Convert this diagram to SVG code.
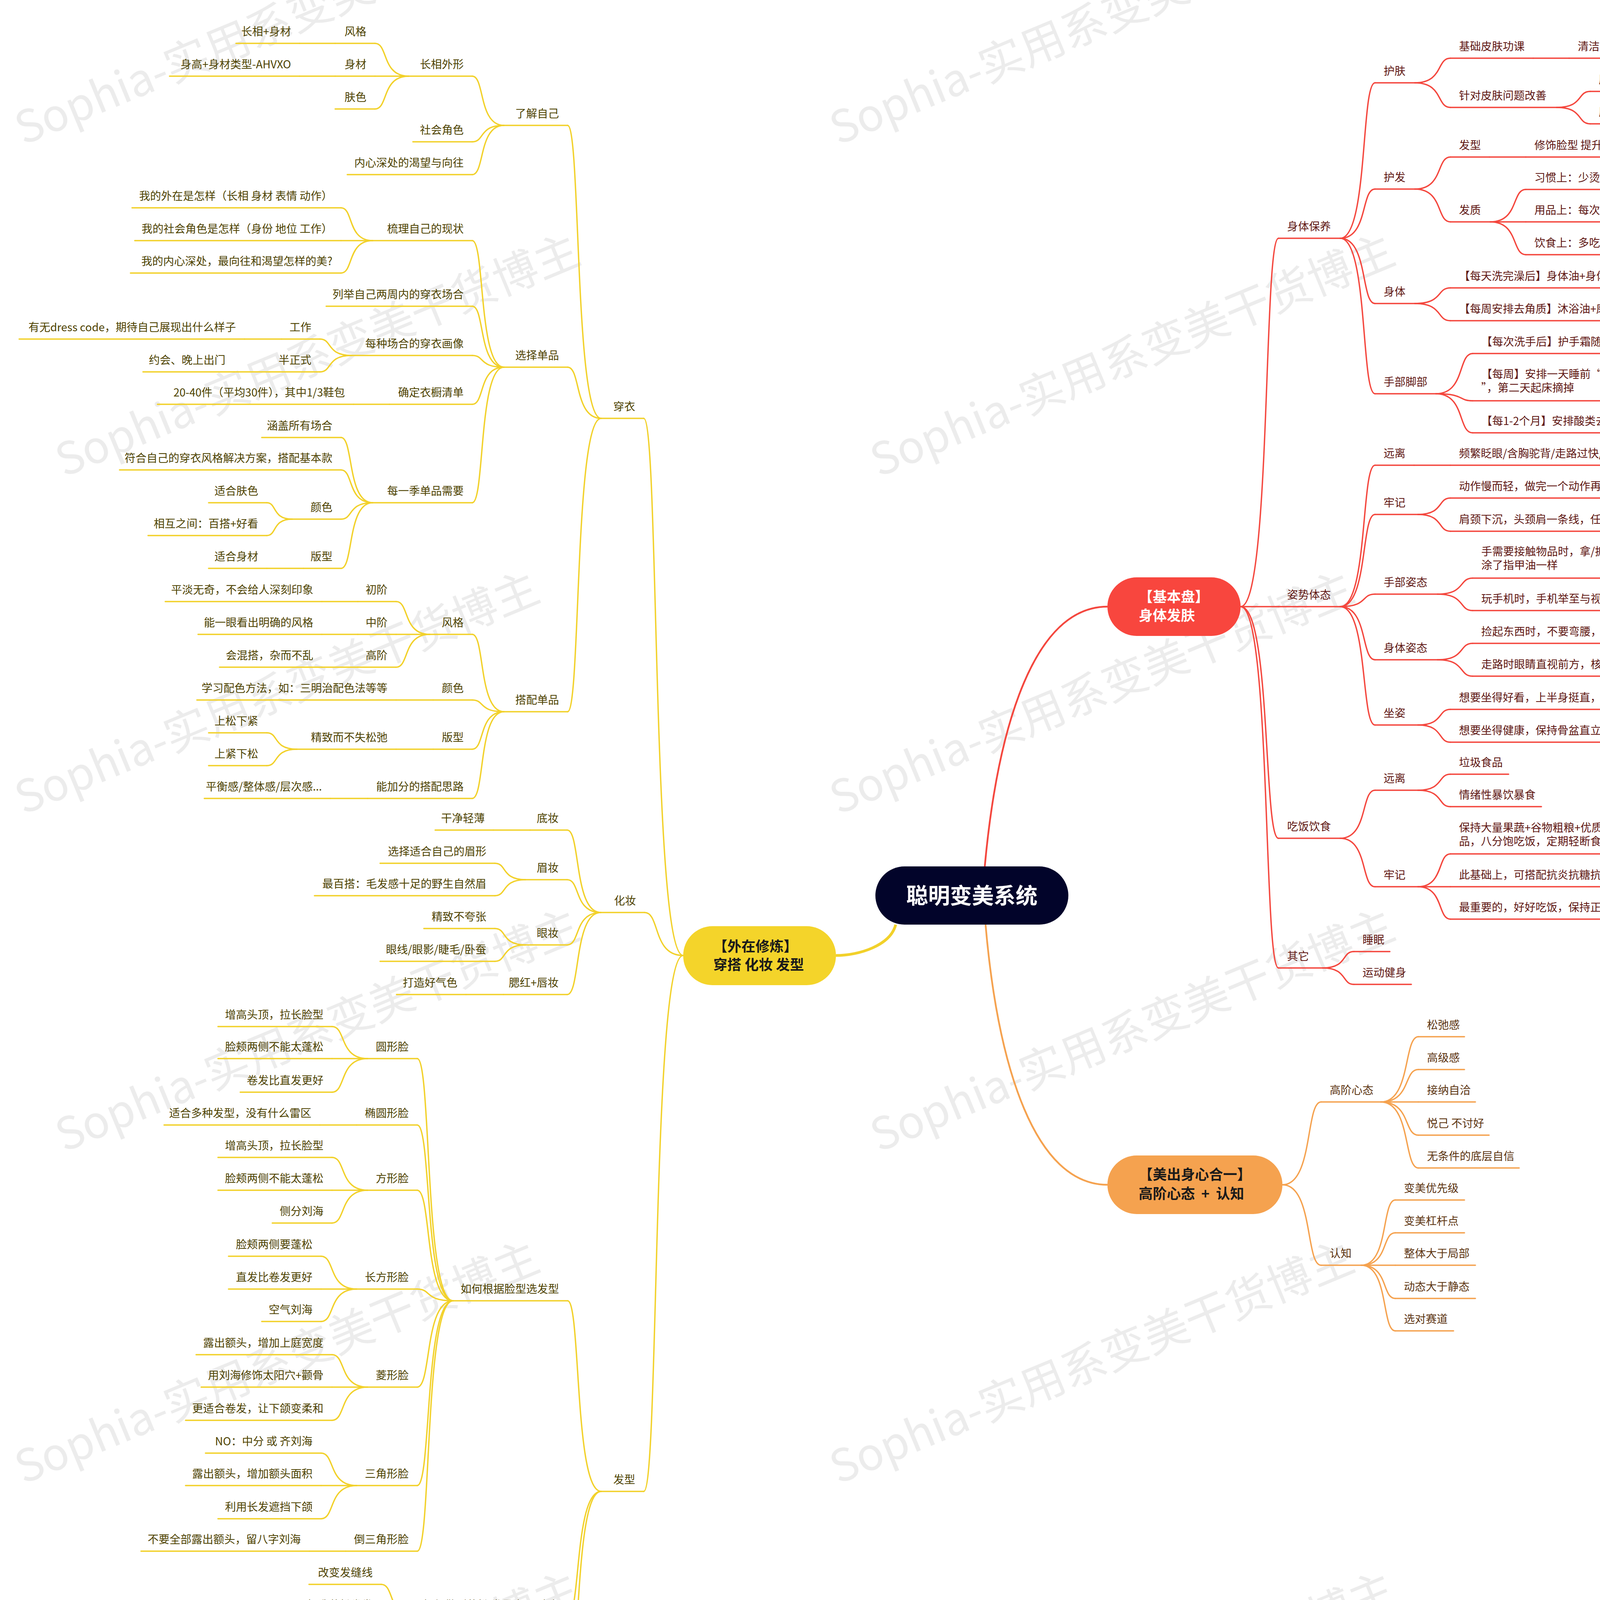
<svg xmlns="http://www.w3.org/2000/svg" width="4672" height="4358" viewBox="0 0 4672 4358">
<style>
text{font-family:"Noto Sans CJK SC","Noto Sans",sans-serif}
.t{font-size:28px}
.ty{fill:#4d4200}
.tr{fill:#5e1612}
.to{fill:#5b3310}
.e{text-anchor:end}
.uy,.uy path{stroke:#F2D12A;stroke-width:3.5;fill:none;stroke-linecap:round}
.ur,.ur path{stroke:#F4473E;stroke-width:3.5;fill:none;stroke-linecap:round}
.uo,.uo path{stroke:#F5A24F;stroke-width:3.5;fill:none;stroke-linecap:round}
.wm{font-size:114px;fill:#ececec}
.nt{font-size:36px;font-weight:bold}
</style>
<rect x="0" y="0" width="4672" height="4358" fill="#ffffff"/>
<g id="watermark">
<text class="wm" x="60" y="372" transform="rotate(-22.5 60 372)">Sophia-实用系变美干货博主</text>
<text class="wm" x="2146" y="372" transform="rotate(-22.5 2146 372)">Sophia-实用系变美干货博主</text>
<text class="wm" x="4232" y="372" transform="rotate(-22.5 4232 372)">Sophia-实用系变美干货博主</text>
<text class="wm" x="164" y="1222" transform="rotate(-22.5 164 1222)">Sophia-实用系变美干货博主</text>
<text class="wm" x="2250" y="1222" transform="rotate(-22.5 2250 1222)">Sophia-实用系变美干货博主</text>
<text class="wm" x="4336" y="1222" transform="rotate(-22.5 4336 1222)">Sophia-实用系变美干货博主</text>
<text class="wm" x="60" y="2086" transform="rotate(-22.5 60 2086)">Sophia-实用系变美干货博主</text>
<text class="wm" x="2146" y="2086" transform="rotate(-22.5 2146 2086)">Sophia-实用系变美干货博主</text>
<text class="wm" x="4232" y="2086" transform="rotate(-22.5 4232 2086)">Sophia-实用系变美干货博主</text>
<text class="wm" x="164" y="2950" transform="rotate(-22.5 164 2950)">Sophia-实用系变美干货博主</text>
<text class="wm" x="2250" y="2950" transform="rotate(-22.5 2250 2950)">Sophia-实用系变美干货博主</text>
<text class="wm" x="4336" y="2950" transform="rotate(-22.5 4336 2950)">Sophia-实用系变美干货博主</text>
<text class="wm" x="60" y="3800" transform="rotate(-22.5 60 3800)">Sophia-实用系变美干货博主</text>
<text class="wm" x="2146" y="3800" transform="rotate(-22.5 2146 3800)">Sophia-实用系变美干货博主</text>
<text class="wm" x="4232" y="3800" transform="rotate(-22.5 4232 3800)">Sophia-实用系变美干货博主</text>
<text class="wm" x="164" y="4648" transform="rotate(-22.5 164 4648)">Sophia-实用系变美干货博主</text>
<text class="wm" x="2250" y="4648" transform="rotate(-22.5 2250 4648)">Sophia-实用系变美干货博主</text>
</g>
<g id="connectors">
<path d="M2521 2218C2555 1850 2650 1553 2835 1553" stroke="#F4473E" stroke-width="4.5" fill="none"/>
<path d="M2523 2367C2555 2735 2650 3033 2835 3033" stroke="#F5A24F" stroke-width="4.5" fill="none"/>
<path d="M2293 2367C2280 2420 2200 2446 2140 2446" stroke="#F2D12A" stroke-width="7" fill="none"/>
<g class="uy">
<path d="M1749 2446C1668 2446 1688 1071 1648 1071"/>
<path d="M1749 2446C1670 2446 1690 2336 1650 2336"/>
<path d="M1749 2446C1668 2446 1688 3818 1648 3818"/>
<path d="M1539 1071C1470 1071 1487 321 1453 321"/>
<path d="M1539 1071C1470 1071 1487 940 1453 940"/>
<path d="M1539 1071C1470 1071 1487 1822 1453 1822"/>
<path d="M1290 321C1225 321 1241 195 1209 195"/>
<path d="M1290 321C1225 321 1241 363 1209 363"/>
<path d="M1290 321C1225 321 1241 447 1209 447"/>
<path d="M1046 195C977 195 994 111 960 111"/>
<path d="M1046 195H960"/>
<path d="M1046 195C977 195 994 279 960 279"/>
<path d="M858 111H767"/>
<path d="M858 195H767"/>
<path d="M1290 940C1225 940 1241 616 1209 616"/>
<path d="M1290 940C1225 940 1241 784 1209 784"/>
<path d="M1290 940C1225 940 1241 910 1209 910"/>
<path d="M1290 940C1225 940 1241 1035 1209 1035"/>
<path d="M1290 940C1225 940 1241 1287 1209 1287"/>
<path d="M954 616C889 616 905 532 873 532"/>
<path d="M954 616H873"/>
<path d="M954 616C889 616 905 699 873 699"/>
<path d="M900 910C835 910 851 868 819 868"/>
<path d="M900 910C835 910 851 952 819 952"/>
<path d="M721 868H626"/>
<path d="M690 952H599"/>
<path d="M997 1035H905"/>
<path d="M954 1287C889 1287 905 1120 873 1120"/>
<path d="M954 1287C889 1287 905 1203 873 1203"/>
<path d="M954 1287C889 1287 905 1329 873 1329"/>
<path d="M954 1287C889 1287 905 1455 873 1455"/>
<path d="M748 1329C696 1329 709 1287 683 1287"/>
<path d="M748 1329C696 1329 709 1371 683 1371"/>
<path d="M777 1455H683"/>
<path d="M1290 1822C1225 1822 1241 1624 1209 1624"/>
<path d="M1290 1822C1225 1822 1241 1792 1209 1792"/>
<path d="M1290 1822C1225 1822 1241 1918 1209 1918"/>
<path d="M1290 1822C1225 1822 1241 2044 1209 2044"/>
<path d="M1100 1624C1031 1624 1048 1540 1014 1540"/>
<path d="M1100 1624H1014"/>
<path d="M1100 1624C1031 1624 1048 1708 1014 1708"/>
<path d="M916 1540H824"/>
<path d="M916 1624H824"/>
<path d="M916 1708H824"/>
<path d="M1109 1792H1014"/>
<path d="M1109 1918H1014"/>
<path d="M941 2044H846"/>
<path d="M760 1918C698 1918 714 1876 683 1876"/>
<path d="M760 1918C698 1918 714 1960 683 1960"/>
<path d="M1538 2336C1469 2336 1486 2125 1452 2125"/>
<path d="M1538 2336C1469 2336 1486 2252 1452 2252"/>
<path d="M1538 2336C1469 2336 1486 2419 1452 2419"/>
<path d="M1538 2336C1469 2336 1486 2546 1452 2546"/>
<path d="M1357 2125H1263"/>
<path d="M1289 2546H1193"/>
<path d="M1345 2252C1283 2252 1298 2210 1267 2210"/>
<path d="M1345 2252C1283 2252 1298 2293 1267 2293"/>
<path d="M1345 2419C1283 2419 1298 2377 1267 2377"/>
<path d="M1345 2419C1283 2419 1298 2461 1267 2461"/>
<path d="M1539 3818C1470 3818 1487 3330 1453 3330"/>
<path d="M1539 3818C1470 3818 1487 4139 1453 4139"/>
<path d="M1539 3818C1470 3818 1487 4307 1453 4307"/>
<path d="M1105 4307H1009"/>
<path d="M1160 3330C1086 3330 1105 2710 1068 2710"/>
<path d="M1160 3330C1086 3330 1105 2880 1068 2880"/>
<path d="M1160 3330C1086 3330 1105 3047 1068 3047"/>
<path d="M1160 3330C1086 3330 1105 3300 1068 3300"/>
<path d="M1160 3330C1086 3330 1105 3551 1068 3551"/>
<path d="M1160 3330C1086 3330 1105 3803 1068 3803"/>
<path d="M1160 3330C1086 3330 1105 3971 1068 3971"/>
<path d="M913 2880H819"/>
<path d="M885 3971H792"/>
<path d="M941 2710C868 2710 886 2628 850 2628"/>
<path d="M941 2710H850"/>
<path d="M941 2710C868 2710 886 2796 850 2796"/>
<path d="M941 3047C868 3047 886 2963 850 2963"/>
<path d="M941 3047H850"/>
<path d="M941 3047C868 3047 886 3131 850 3131"/>
<path d="M913 3300C840 3300 858 3216 822 3216"/>
<path d="M913 3300H822"/>
<path d="M913 3300C840 3300 858 3383 822 3383"/>
<path d="M941 3551C868 3551 886 3468 850 3468"/>
<path d="M941 3551H850"/>
<path d="M941 3551C868 3551 886 3636 850 3636"/>
<path d="M913 3803C840 3803 858 3720 822 3720"/>
<path d="M913 3803H822"/>
<path d="M913 3803C840 3803 858 3888 822 3888"/>
<path d="M1060 4139C993 4139 1010 4056 976 4056"/>
<path d="M1060 4139H976"/>
<path d="M1060 4139C993 4139 1010 4223 976 4223"/>
</g>
<g class="ur">
<path d="M3176 1553C3254 1553 3234 610 3273 610"/>
<path d="M3176 1553H3273"/>
<path d="M3176 1553C3254 1553 3234 2146 3273 2146"/>
<path d="M3176 1553C3254 1553 3234 2478 3273 2478"/>
<path d="M3431 610C3502 610 3484 212 3520 212"/>
<path d="M3431 610C3502 610 3484 484 3520 484"/>
<path d="M3431 610C3502 610 3484 777 3520 777"/>
<path d="M3431 610C3502 610 3484 1008 3520 1008"/>
<path d="M3622 212C3695 212 3677 149 3713 149"/>
<path d="M3622 212C3695 212 3677 275 3713 275"/>
<path d="M3925 149H4017"/>
<path d="M3985 275C4054 275 4037 234 4071 234"/>
<path d="M3985 275C4054 275 4037 317 4071 317"/>
<path d="M4171 234H4265"/>
<path d="M4171 317H4265"/>
<path d="M3622 484C3695 484 3677 402 3713 402"/>
<path d="M3622 484C3695 484 3677 568 3713 568"/>
<path d="M3813 402H3906"/>
<path d="M3815 568C3888 568 3870 485 3906 485"/>
<path d="M3815 568H3906"/>
<path d="M3815 568C3888 568 3870 652 3906 652"/>
<path d="M3622 777C3695 777 3677 737 3713 737"/>
<path d="M3622 777C3695 777 3677 821 3713 821"/>
<path d="M3676 1008C3751 1008 3732 905 3770 905"/>
<path d="M3676 1008C3751 1008 3732 1026 3770 1026"/>
<path d="M3676 1008C3751 1008 3732 1108 3770 1108"/>
<path d="M3431 1553C3502 1553 3484 1191 3520 1191"/>
<path d="M3431 1553C3502 1553 3484 1317 3520 1317"/>
<path d="M3431 1553C3502 1553 3484 1521 3520 1521"/>
<path d="M3431 1553C3502 1553 3484 1689 3520 1689"/>
<path d="M3431 1553C3502 1553 3484 1856 3520 1856"/>
<path d="M3620 1191H3713"/>
<path d="M3630 1317C3696 1317 3680 1275 3713 1275"/>
<path d="M3630 1317C3696 1317 3680 1360 3713 1360"/>
<path d="M3680 1521C3752 1521 3734 1480 3770 1480"/>
<path d="M3680 1521C3752 1521 3734 1563 3770 1563"/>
<path d="M3680 1689C3752 1689 3734 1647 3770 1647"/>
<path d="M3680 1689C3752 1689 3734 1731 3770 1731"/>
<path d="M3630 1856C3696 1856 3680 1816 3713 1816"/>
<path d="M3630 1856C3696 1856 3680 1900 3713 1900"/>
<path d="M3431 2146C3502 2146 3484 2023 3520 2023"/>
<path d="M3431 2146C3502 2146 3484 2270 3520 2270"/>
<path d="M3630 2023C3696 2023 3680 1982 3713 1982"/>
<path d="M3630 2023C3696 2023 3680 2065 3713 2065"/>
<path d="M3630 2270C3696 2270 3680 2186 3713 2186"/>
<path d="M3630 2270H3713"/>
<path d="M3630 2270C3696 2270 3680 2353 3713 2353"/>
<path d="M3386 2478C3450 2478 3434 2436 3466 2436"/>
<path d="M3386 2478C3450 2478 3434 2520 3466 2520"/>
</g>
<g class="uo">
<path d="M3283 3033C3362 3033 3342 2821 3382 2821"/>
<path d="M3283 3033C3362 3033 3342 3239 3382 3239"/>
<path d="M3535 2821C3612 2821 3593 2654 3631 2654"/>
<path d="M3535 2821C3612 2821 3593 2738 3631 2738"/>
<path d="M3535 2821H3631"/>
<path d="M3535 2821C3612 2821 3593 2906 3631 2906"/>
<path d="M3535 2821C3612 2821 3593 2990 3631 2990"/>
<path d="M3485 3239C3555 3239 3537 3072 3572 3072"/>
<path d="M3485 3239C3555 3239 3537 3156 3572 3156"/>
<path d="M3485 3239H3572"/>
<path d="M3485 3239C3555 3239 3537 3324 3572 3324"/>
<path d="M3485 3239C3555 3239 3537 3407 3572 3407"/>
</g>
</g>
<g id="center"><rect x="2241" y="2218" width="494" height="149" rx="74.5" fill="#02042A"/><text x="2488" y="2313" text-anchor="middle" font-size="56" font-weight="bold" fill="#ffffff">聪明变美系统</text></g>
<g id="node-basic"><rect x="2835" y="1478" width="341" height="150" rx="75" fill="#F8463E"/><text class="nt" x="2915" y="1541" fill="#ffffff">【基本盘】</text><text class="nt" x="2915" y="1589" fill="#ffffff">身体发肤</text></g>
<g id="node-outer"><rect x="1749" y="2371" width="391" height="151" rx="75" fill="#F4D42A"/><text class="nt" x="1826" y="2436" fill="#1a1a1a">【外在修炼】</text><text class="nt" x="1826" y="2483" fill="#1a1a1a">穿搭 化妆 发型</text></g>
<g id="node-mind"><rect x="2835" y="2958" width="448" height="150" rx="75" fill="#F5A24F"/><text class="nt" x="2915" y="3020" fill="#1a1a1a">【美出身心合一】</text><text class="nt" x="2915" y="3069" fill="#1a1a1a" xml:space="preserve">高阶心态  +  认知</text></g>
<g id="left-tree">
<g id="y-chuanyi"><path class="uy" d="M1539 1071H1648"/><text class="t ty e" x="1626" y="1051">穿衣</text></g>
<g id="y-huazhuang"><path class="uy" d="M1538 2336H1650"/><text class="t ty e" x="1628" y="2316">化妆</text></g>
<g id="y-faxing"><path class="uy" d="M1539 3818H1648"/><text class="t ty e" x="1626" y="3798">发型</text></g>
<g id="y-ljzj"><path class="uy" d="M1290 321H1453"/><text class="t ty e" x="1431" y="301">了解自己</text></g>
<g id="y-xzdp"><path class="uy" d="M1290 940H1453"/><text class="t ty e" x="1431" y="920">选择单品</text></g>
<g id="y-dpdp"><path class="uy" d="M1290 1822H1453"/><text class="t ty e" x="1431" y="1802">搭配单品</text></g>
<g id="y-cxwx"><path class="uy" d="M1046 195H1209"/><text class="t ty e" x="1187" y="175">长相外形</text></g>
<g id="y-shjs"><path class="uy" d="M1057 363H1209"/><text class="t ty e" x="1187" y="343">社会角色</text></g>
<g id="y-nxsc"><path class="uy" d="M889 447H1209"/><text class="t ty e" x="1187" y="427">内心深处的渴望与向往</text></g>
<g id="y-fg"><path class="uy" d="M858 111H960"/><text class="t ty e" x="938" y="91">风格</text></g>
<g id="y-fg-1"><path class="uy" d="M604 111H767"/><text class="t ty e" x="745" y="91">长相+身材</text></g>
<g id="y-sc"><path class="uy" d="M858 195H960"/><text class="t ty e" x="938" y="175">身材</text></g>
<g id="y-sc-1"><path class="uy" d="M434 195H767"/><text class="t ty e" x="745" y="175">身高+身材类型-AHVXO</text></g>
<g id="y-fs"><path class="uy" d="M858 279H960"/><text class="t ty e" x="938" y="259">肤色</text></g>
<g id="y-slzj"><path class="uy" d="M954 616H1209"/><text class="t ty e" x="1187" y="596">梳理自己的现状</text></g>
<g id="y-sl-1"><path class="uy" d="M338 532H873"/><text class="t ty e" x="851" y="512">我的外在是怎样（长相 身材 表情 动作）</text></g>
<g id="y-sl-2"><path class="uy" d="M345 616H873"/><text class="t ty e" x="851" y="596">我的社会角色是怎样（身份 地位 工作）</text></g>
<g id="y-sl-3"><path class="uy" d="M334 699H873"/><text class="t ty e" x="851" y="679">我的内心深处，最向往和渴望怎样的美?</text></g>
<g id="y-lj"><path class="uy" d="M835 784H1209"/><text class="t ty e" x="1187" y="764">列举自己两周内的穿衣场合</text></g>
<g id="y-mzch"><path class="uy" d="M900 910H1209"/><text class="t ty e" x="1187" y="890">每种场合的穿衣画像</text></g>
<g id="y-gz"><path class="uy" d="M721 868H819"/><text class="t ty e" x="797" y="848">工作</text></g>
<g id="y-gz-1"><path class="uy" d="M49 868H626"/><text class="t ty e" x="604" y="848">有无dress code，期待自己展现出什么样子</text></g>
<g id="y-bzs"><path class="uy" d="M690 952H819"/><text class="t ty e" x="797" y="932">半正式</text></g>
<g id="y-bzs-1"><path class="uy" d="M366 952H599"/><text class="t ty e" x="577" y="932">约会、晚上出门</text></g>
<g id="y-qd"><path class="uy" d="M997 1035H1209"/><text class="t ty e" x="1187" y="1015">确定衣橱清单</text></g>
<g id="y-qd-1"><path class="uy" d="M403 1035H905"/><text class="t ty e" x="883" y="1015">20-40件（平均30件），其中1/3鞋包</text></g>
<g id="y-myj"><path class="uy" d="M954 1287H1209"/><text class="t ty e" x="1187" y="1267">每一季单品需要</text></g>
<g id="y-myj-1"><path class="uy" d="M670 1120H873"/><text class="t ty e" x="851" y="1100">涵盖所有场合</text></g>
<g id="y-myj-2"><path class="uy" d="M306 1203H873"/><text class="t ty e" x="851" y="1183">符合自己的穿衣风格解决方案，搭配基本款</text></g>
<g id="y-ys"><path class="uy" d="M748 1329H873"/><text class="t ty e" x="851" y="1309">颜色</text></g>
<g id="y-ys-1"><path class="uy" d="M534 1287H683"/><text class="t ty e" x="661" y="1267">适合肤色</text></g>
<g id="y-ys-2"><path class="uy" d="M379 1371H683"/><text class="t ty e" x="661" y="1351">相互之间：百搭+好看</text></g>
<g id="y-bx"><path class="uy" d="M777 1455H873"/><text class="t ty e" x="851" y="1435">版型</text></g>
<g id="y-bx-1"><path class="uy" d="M534 1455H683"/><text class="t ty e" x="661" y="1435">适合身材</text></g>
<g id="y-fg2"><path class="uy" d="M1100 1624H1209"/><text class="t ty e" x="1187" y="1604">风格</text></g>
<g id="y-cj"><path class="uy" d="M916 1540H1014"/><text class="t ty e" x="992" y="1520">初阶</text></g>
<g id="y-cj-1"><path class="uy" d="M423 1540H824"/><text class="t ty e" x="802" y="1520">平淡无奇，不会给人深刻印象</text></g>
<g id="y-zj"><path class="uy" d="M916 1624H1014"/><text class="t ty e" x="992" y="1604">中阶</text></g>
<g id="y-zj-1"><path class="uy" d="M507 1624H824"/><text class="t ty e" x="802" y="1604">能一眼看出明确的风格</text></g>
<g id="y-gj"><path class="uy" d="M916 1708H1014"/><text class="t ty e" x="992" y="1688">高阶</text></g>
<g id="y-gj-1"><path class="uy" d="M562 1708H824"/><text class="t ty e" x="802" y="1688">会混搭，杂而不乱</text></g>
<g id="y-ys2"><path class="uy" d="M1109 1792H1209"/><text class="t ty e" x="1187" y="1772">颜色</text></g>
<g id="y-ys2-1"><path class="uy" d="M504 1792H1014"/><text class="t ty e" x="992" y="1772">学习配色方法，如：三明治配色法等等</text></g>
<g id="y-bx2"><path class="uy" d="M1109 1918H1209"/><text class="t ty e" x="1187" y="1898">版型</text></g>
<g id="y-bx2-1"><path class="uy" d="M760 1918H1014"/><text class="t ty e" x="992" y="1898">精致而不失松弛</text></g>
<g id="y-bx2-1a"><path class="uy" d="M534 1876H683"/><text class="t ty e" x="661" y="1856">上松下紧</text></g>
<g id="y-bx2-1b"><path class="uy" d="M534 1960H683"/><text class="t ty e" x="661" y="1940">上紧下松</text></g>
<g id="y-jf"><path class="uy" d="M941 2044H1209"/><text class="t ty e" x="1187" y="2024">能加分的搭配思路</text></g>
<g id="y-jf-1"><path class="uy" d="M523 2044H846"/><text class="t ty e" x="824" y="2024">平衡感/整体感/层次感...</text></g>
<g id="y-dz"><path class="uy" d="M1357 2125H1452"/><text class="t ty e" x="1430" y="2105">底妆</text></g>
<g id="y-dz-1"><path class="uy" d="M1114 2125H1263"/><text class="t ty e" x="1241" y="2105">干净轻薄</text></g>
<g id="y-mz"><path class="uy" d="M1345 2252H1452"/><text class="t ty e" x="1430" y="2232">眉妆</text></g>
<g id="y-mz-1"><path class="uy" d="M973 2210H1267"/><text class="t ty e" x="1245" y="2190">选择适合自己的眉形</text></g>
<g id="y-mz-2"><path class="uy" d="M805 2293H1267"/><text class="t ty e" x="1245" y="2273">最百搭：毛发感十足的野生自然眉</text></g>
<g id="y-yz"><path class="uy" d="M1345 2419H1452"/><text class="t ty e" x="1430" y="2399">眼妆</text></g>
<g id="y-yz-1"><path class="uy" d="M1085 2377H1267"/><text class="t ty e" x="1245" y="2357">精致不夸张</text></g>
<g id="y-yz-2"><path class="uy" d="M973 2461H1267"/><text class="t ty e" x="1245" y="2441">眼线/眼影/睫毛/卧蚕</text></g>
<g id="y-sh"><path class="uy" d="M1289 2546H1452"/><text class="t ty e" x="1430" y="2526">腮红+唇妆</text></g>
<g id="y-sh-1"><path class="uy" d="M1015 2546H1193"/><text class="t ty e" x="1171" y="2526">打造好气色</text></g>
<g id="y-rh"><path class="uy" d="M1160 3330H1453"/><text class="t ty e" x="1431" y="3310">如何根据脸型选发型</text></g>
<g id="y-yx"><path class="uy" d="M941 2710H1068"/><text class="t ty e" x="1046" y="2690">圆形脸</text></g>
<g id="y-yx-1"><path class="uy" d="M558 2628H850"/><text class="t ty e" x="828" y="2608">增高头顶，拉长脸型</text></g>
<g id="y-yx-2"><path class="uy" d="M558 2710H850"/><text class="t ty e" x="828" y="2690">脸颊两侧不能太蓬松</text></g>
<g id="y-yx-3"><path class="uy" d="M615 2796H850"/><text class="t ty e" x="828" y="2776">卷发比直发更好</text></g>
<g id="y-ty"><path class="uy" d="M913 2880H1068"/><text class="t ty e" x="1046" y="2860">椭圆形脸</text></g>
<g id="y-ty-1"><path class="uy" d="M420 2880H819"/><text class="t ty e" x="797" y="2860">适合多种发型，没有什么雷区</text></g>
<g id="y-fx"><path class="uy" d="M941 3047H1068"/><text class="t ty e" x="1046" y="3027">方形脸</text></g>
<g id="y-fx-1"><path class="uy" d="M558 2963H850"/><text class="t ty e" x="828" y="2943">增高头顶，拉长脸型</text></g>
<g id="y-fx-2"><path class="uy" d="M558 3047H850"/><text class="t ty e" x="828" y="3027">脸颊两侧不能太蓬松</text></g>
<g id="y-fx-3"><path class="uy" d="M697 3131H850"/><text class="t ty e" x="828" y="3111">侧分刘海</text></g>
<g id="y-cf"><path class="uy" d="M913 3300H1068"/><text class="t ty e" x="1046" y="3280">长方形脸</text></g>
<g id="y-cf-1"><path class="uy" d="M585 3216H822"/><text class="t ty e" x="800" y="3196">脸颊两侧要蓬松</text></g>
<g id="y-cf-2"><path class="uy" d="M585 3300H822"/><text class="t ty e" x="800" y="3280">直发比卷发更好</text></g>
<g id="y-cf-3"><path class="uy" d="M670 3383H822"/><text class="t ty e" x="800" y="3363">空气刘海</text></g>
<g id="y-lx"><path class="uy" d="M941 3551H1068"/><text class="t ty e" x="1046" y="3531">菱形脸</text></g>
<g id="y-lx-1"><path class="uy" d="M502 3468H850"/><text class="t ty e" x="828" y="3448">露出额头，增加上庭宽度</text></g>
<g id="y-lx-2"><path class="uy" d="M515 3551H850"/><text class="t ty e" x="828" y="3531">用刘海修饰太阳穴+颧骨</text></g>
<g id="y-lx-3"><path class="uy" d="M475 3636H850"/><text class="t ty e" x="828" y="3616">更适合卷发，让下颌变柔和</text></g>
<g id="y-sj"><path class="uy" d="M913 3803H1068"/><text class="t ty e" x="1046" y="3783">三角形脸</text></g>
<g id="y-sj-1"><path class="uy" d="M526 3720H822"/><text class="t ty e" x="800" y="3700">NO：中分 或 齐刘海</text></g>
<g id="y-sj-2"><path class="uy" d="M475 3803H822"/><text class="t ty e" x="800" y="3783">露出额头，增加额头面积</text></g>
<g id="y-sj-3"><path class="uy" d="M558 3888H822"/><text class="t ty e" x="800" y="3868">利用长发遮挡下颌</text></g>
<g id="y-dsj"><path class="uy" d="M885 3971H1068"/><text class="t ty e" x="1046" y="3951">倒三角形脸</text></g>
<g id="y-dsj-1"><path class="uy" d="M361 3971H792"/><text class="t ty e" x="770" y="3951">不要全部露出额头，留八字刘海</text></g>
<g id="y-pf"><path class="uy" d="M1060 4139H1453"/><text class="t ty e" x="1431" y="4119">如何做到蓬松 发量大 显脸小</text></g>
<g id="y-pf-1"><path class="uy" d="M791 4056H976"/><text class="t ty e" x="954" y="4036">改变发缝线</text></g>
<g id="y-pf-2"><path class="uy" d="M762 4139H976"/><text class="t ty e" x="954" y="4119">打造蓬松卷发</text></g>
<g id="y-pf-3"><path class="uy" d="M762 4223H976"/><text class="t ty e" x="954" y="4203">做出蓬松刘海</text></g>
<g id="y-cj2"><path class="uy" d="M1105 4307H1453"/><text class="t ty e" x="1431" y="4287">常见发型如何捯饬得好看</text></g>
<g id="y-cj2-1"><path class="uy" d="M658 4307H1009"/><text class="t ty e" x="987" y="4287">丸子头/马尾辫/半头编发...</text></g>
</g>
<g id="right-tree">
<g id="r-stby"><path class="ur" d="M3273 610H3431"/><text class="t tr" x="3295" y="590">身体保养</text></g>
<g id="r-zsts"><path class="ur" d="M3273 1553H3431"/><text class="t tr" x="3295" y="1533">姿势体态</text></g>
<g id="r-cfys"><path class="ur" d="M3273 2146H3431"/><text class="t tr" x="3295" y="2126">吃饭饮食</text></g>
<g id="r-qt"><path class="ur" d="M3273 2478H3386"/><text class="t tr" x="3295" y="2458">其它</text></g>
<g id="r-hf"><path class="ur" d="M3520 212H3622"/><text class="t tr" x="3542" y="192">护肤</text></g>
<g id="r-hfa"><path class="ur" d="M3520 484H3622"/><text class="t tr" x="3542" y="464">护发</text></g>
<g id="r-st"><path class="ur" d="M3520 777H3622"/><text class="t tr" x="3542" y="757">身体</text></g>
<g id="r-sbjb"><path class="ur" d="M3520 1008H3676"/><text class="t tr" x="3542" y="988">手部脚部</text></g>
<g id="r-jc"><path class="ur" d="M3713 149H3925"/><text class="t tr" x="3735" y="129">基础皮肤功课</text></g>
<g id="r-jc-1"><path class="ur" d="M4017 149H4302"/><text class="t tr" x="4039" y="129">清洁 保湿 防晒 抗衰</text></g>
<g id="r-zd"><path class="ur" d="M3713 275H3985"/><text class="t tr" x="3735" y="255">针对皮肤问题改善</text></g>
<g id="r-fs"><path class="ur" d="M4071 234H4171"/><text class="t tr" x="4093" y="214">肤色</text></g>
<g id="r-fs-1"><path class="ur" d="M4265 234H4606"/><text class="t tr" x="4287" y="214">美白 去黄气...让肤色匀净</text></g>
<g id="r-fz"><path class="ur" d="M4071 317H4171"/><text class="t tr" x="4093" y="297">肤质</text></g>
<g id="r-fz-1"><path class="ur" d="M4265 317H4621"/><text class="t tr" x="4287" y="297">祛痘 祛黑头 祛皱 缩毛孔...</text></g>
<g id="r-fx"><path class="ur" d="M3713 402H3813"/><text class="t tr" x="3735" y="382">发型</text></g>
<g id="r-fx-1"><path class="ur" d="M3906 402H4293"/><text class="t tr" x="3928" y="382">修饰脸型 提升气质 营造氛围</text></g>
<g id="r-fzh"><path class="ur" d="M3713 568H3815"/><text class="t tr" x="3735" y="548">发质</text></g>
<g id="r-fzh-1"><path class="ur" d="M3906 485H4137"/><text class="t tr" x="3928" y="465">习惯上：少烫染</text></g>
<g id="r-fzh-2"><path class="ur" d="M3906 568H4417"/><text class="t tr" x="3928" y="548">用品上：每次洗头后用精油，定期发膜</text></g>
<g id="r-fzh-3"><path class="ur" d="M3906 652H4334"/><text class="t tr" x="3928" y="632">饮食上：多吃黑芝麻等健发食物</text></g>
<g id="r-st-1"><path class="ur" d="M3713 737H4155"/><text class="t tr" x="3735" y="717">【每天洗完澡后】身体油+身体乳</text></g>
<g id="r-st-2"><path class="ur" d="M3713 821H4184"/><text class="t tr" x="3735" y="801">【每周安排去角质】沐浴油+磨砂膏</text></g>
<g id="r-sb-1"><path class="ur" d="M3770 905H4198"/><text class="t tr" x="3792" y="885">【每次洗手后】护手霜随时抹上</text></g>
<g id="r-sb-2"><path class="ur" d="M3770 1026H4375"/><text class="t tr" x="3792" y="968">【每周】安排一天睡前“护手霜+橄榄油+棉手套</text><text class="t tr" x="3792" y="1003">”，第二天起床摘掉</text></g>
<g id="r-sb-3"><path class="ur" d="M3770 1108H4347"/><text class="t tr" x="3792" y="1088">【每1-2个月】安排酸类去角质脚膜，去死皮</text></g>
<g id="r-yl"><path class="ur" d="M3520 1191H3620"/><text class="t tr" x="3542" y="1171">远离</text></g>
<g id="r-yl-1"><path class="ur" d="M3713 1191H4329"/><text class="t tr" x="3735" y="1171">频繁眨眼/含胸驼背/走路过快/舔嘴唇/抖腿/塌腰</text></g>
<g id="r-lj"><path class="ur" d="M3520 1317H3630"/><text class="t tr" x="3542" y="1297">牢记</text></g>
<g id="r-lj-1"><path class="ur" d="M3713 1275H4309"/><text class="t tr" x="3735" y="1255">动作慢而轻，做完一个动作再进行下一个动作</text></g>
<g id="r-lj-2"><path class="ur" d="M3713 1360H4338"/><text class="t tr" x="3735" y="1340">肩颈下沉，头颈肩一条线，任何时候都收紧腹部</text></g>
<g id="r-sbzt"><path class="ur" d="M3520 1521H3680"/><text class="t tr" x="3542" y="1501">手部姿态</text></g>
<g id="r-sbzt-1"><path class="ur" d="M3770 1480H4386"/><text class="t tr" x="3792" y="1422">手需要接触物品时，拿/抓/取，使用指腹，像刚</text><text class="t tr" x="3792" y="1457">涂了指甲油一样</text></g>
<g id="r-sbzt-2"><path class="ur" d="M3770 1563H4365"/><text class="t tr" x="3792" y="1543">玩手机时，手机举至与视线平行，不做低头族</text></g>
<g id="r-stzt"><path class="ur" d="M3520 1689H3680"/><text class="t tr" x="3542" y="1669">身体姿态</text></g>
<g id="r-stzt-1"><path class="ur" d="M3770 1647H4282"/><text class="t tr" x="3792" y="1627">捡起东西时，不要弯腰，而是蹲下捡起</text></g>
<g id="r-stzt-2"><path class="ur" d="M3770 1731H4393"/><text class="t tr" x="3792" y="1711">走路时眼睛直视前方，核心发力，手臂自然摆动</text></g>
<g id="r-zz"><path class="ur" d="M3520 1856H3630"/><text class="t tr" x="3542" y="1836">坐姿</text></g>
<g id="r-zz-1"><path class="ur" d="M3713 1816H4225"/><text class="t tr" x="3735" y="1796">想要坐得好看，上半身挺直，双腿并拢</text></g>
<g id="r-zz-2"><path class="ur" d="M3713 1900H4309"/><text class="t tr" x="3735" y="1880">想要坐得健康，保持骨盆直立，不要过于倾斜</text></g>
<g id="r-yl2"><path class="ur" d="M3520 2023H3630"/><text class="t tr" x="3542" y="2003">远离</text></g>
<g id="r-yl2-1"><path class="ur" d="M3713 1982H3862"/><text class="t tr" x="3735" y="1962">垃圾食品</text></g>
<g id="r-yl2-2"><path class="ur" d="M3713 2065H3946"/><text class="t tr" x="3735" y="2045">情绪性暴饮暴食</text></g>
<g id="r-lj2"><path class="ur" d="M3520 2270H3630"/><text class="t tr" x="3542" y="2250">牢记</text></g>
<g id="r-lj2-1"><path class="ur" d="M3713 2186H4338"/><text class="t tr" x="3735" y="2129">保持大量果蔬+谷物粗粮+优质油脂，远离垃圾食</text><text class="t tr" x="3735" y="2164">品，八分饱吃饭，定期轻断食</text></g>
<g id="r-lj2-2"><path class="ur" d="M3713 2270H4225"/><text class="t tr" x="3735" y="2250">此基础上，可搭配抗炎抗糖抗衰的饮食</text></g>
<g id="r-lj2-3"><path class="ur" d="M3713 2353H4143"/><text class="t tr" x="3735" y="2333">最重要的，好好吃饭，保持正念</text></g>
<g id="r-sm"><path class="ur" d="M3466 2436H3558"/><text class="t tr" x="3488" y="2416">睡眠</text></g>
<g id="r-yd"><path class="ur" d="M3466 2520H3613"/><text class="t tr" x="3488" y="2500">运动健身</text></g>
</g>
<g id="orange-tree">
<g id="o-gj"><path class="uo" d="M3382 2821H3535"/><text class="t to" x="3404" y="2801">高阶心态</text></g>
<g id="o-gj-1"><path class="uo" d="M3631 2654H3749"/><text class="t to" x="3653" y="2634">松弛感</text></g>
<g id="o-gj-2"><path class="uo" d="M3631 2738H3749"/><text class="t to" x="3653" y="2718">高级感</text></g>
<g id="o-gj-3"><path class="uo" d="M3631 2821H3777"/><text class="t to" x="3653" y="2801">接纳自洽</text></g>
<g id="o-gj-4"><path class="uo" d="M3631 2906H3812"/><text class="t to" x="3653" y="2886">悦己 不讨好</text></g>
<g id="o-gj-5"><path class="uo" d="M3631 2990H3889"/><text class="t to" x="3653" y="2970">无条件的底层自信</text></g>
<g id="o-rz"><path class="uo" d="M3382 3239H3485"/><text class="t to" x="3404" y="3219">认知</text></g>
<g id="o-rz-1"><path class="uo" d="M3572 3072H3749"/><text class="t to" x="3594" y="3052">变美优先级</text></g>
<g id="o-rz-2"><path class="uo" d="M3572 3156H3749"/><text class="t to" x="3594" y="3136">变美杠杆点</text></g>
<g id="o-rz-3"><path class="uo" d="M3572 3239H3777"/><text class="t to" x="3594" y="3219">整体大于局部</text></g>
<g id="o-rz-4"><path class="uo" d="M3572 3324H3777"/><text class="t to" x="3594" y="3304">动态大于静态</text></g>
<g id="o-rz-5"><path class="uo" d="M3572 3407H3721"/><text class="t to" x="3594" y="3387">选对赛道</text></g>
</g>
</svg>
